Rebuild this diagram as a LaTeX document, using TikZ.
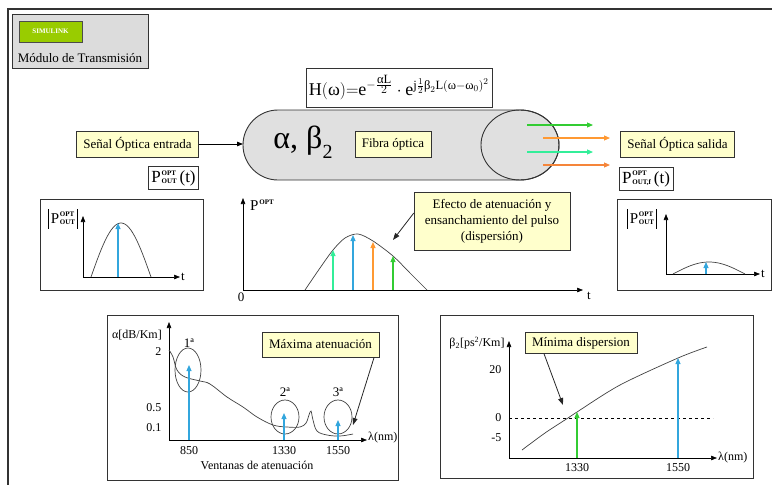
\documentclass[tikz,border=0pt]{standalone}
\usepackage{amsmath}
\usepackage{fontspec}
\setmainfont{Liberation Serif}
\usetikzlibrary{arrows.meta,positioning,calc}
\definecolor{fibBox}{HTML}{FFFFCC}
\definecolor{fibGray}{HTML}{E0E0E0}
\definecolor{fibPanel}{HTML}{DCDCDC}
\definecolor{fibLime}{HTML}{99CC00}
\definecolor{fibBlue}{HTML}{33A6DD}
\definecolor{fibMint}{HTML}{33EE99}
\definecolor{fibGreen}{HTML}{33CC33}
\definecolor{fibOrange}{HTML}{FF9933}
\definecolor{fibRust}{HTML}{F5853A}
\definecolor{fibLine}{HTML}{333333}
\newcommand{\optstack}[1]{\kern0.8pt\raisebox{-1pt}{\fontsize{7}{8.4}\selectfont\bfseries
  \begin{tabular}[b]{@{}l@{}}OPT\\#1\end{tabular}}}

\begin{document}
\begin{tikzpicture}[x=1pt,y=-1pt,font=\fontsize{13}{16}\selectfont,
  note/.style={draw=fibLine,fill=fibBox,minimum height=26pt,inner xsep=7pt,align=center},
  eqbox/.style={draw=fibLine,fill=white,inner sep=3pt},
  panel/.style={draw=fibLine,line width=0.8pt},
  axisline/.style={draw=black,line width=0.6pt,-{Triangle[length=6pt,width=4.5pt]}},
  pulse/.style={draw=black!75,line width=0.7pt},
  ray/.style={line width=1.1pt,-{Triangle[length=6pt,width=5pt]}},
  pointer/.style={draw=black!85,line width=0.8pt,-{Triangle[length=7pt,width=5pt]}},
  ticklbl/.style={font=\fontsize{12}{14}\selectfont},
  plbl/.style={font=\fontsize{15}{17}\selectfont,inner xsep=2pt,inner ysep=1pt}]
  \useasboundingbox (0,0) rectangle (772,485);
  \draw[fibLine,line width=1.2pt] (772,9) -- (8,9) -- (8,485);

  \node[draw=fibLine,fill=fibPanel,line width=0.8pt,minimum width=136pt,minimum height=54pt] (simbox) at (80,41) {};
  \node[draw=black!70,fill=fibLime,text=white,font=\fontsize{7}{8}\selectfont\bfseries,
        minimum width=63pt,minimum height=21pt,inner sep=0pt] (simlogo) at (50.5,31.5) {SIMULINK};
  \node (modulo) at (80,58) {Módulo de Transmisión};

  \node[eqbox,minimum width=184pt,minimum height=39pt,font=\fontsize{18}{21}\selectfont] (hw) at (399,87.5)
    {$\mathrm{H}(\text{ω}){=}\mathrm{e}^{-\frac{\scriptstyle\text{α}\mathrm{L}}{\scriptstyle 2}}\cdot\mathrm{e}^{\mathrm{j}\frac{1}{2}\text{β}_{2}\mathrm{L}(\text{ω}-\text{ω}_{0})^{2}}$};

  \filldraw[fill=fibGray,draw=fibLine,line width=0.9pt] (278,110) arc[start angle=270,end angle=90,radius=35]
    -- (520,180) arc[start angle=90,end angle=-90,x radius=39,y radius=35] -- cycle;
  \draw[fibLine,line width=0.9pt] (520,145) ellipse [x radius=39,y radius=35];
  \coordinate (fibin) at (243,144);
  \node[font=\fontsize{32}{36}\selectfont] (ab) at (303,142) {α, β\raisebox{-0.3em}{\fontsize{20}{20}\selectfont 2}};
  \node[note] (fibra) at (393,144) {Fibra óptica};
  \node[note] (entrada) at (137.5,144) {Señal Óptica entrada};
  \node[note] (salida) at (677.5,144) {Señal Óptica salida};
  \draw[axisline,line width=0.8pt] (entrada.east) -- (fibin);
  \foreach \yy/\xa/\xb/\cc in {125/527/593/fibGreen,138/543/610/fibOrange,152/527/593/fibMint,165/543/610/fibRust}
    \draw[ray,\cc] (\xa,\yy) -- (\xb,\yy);

  \node[eqbox,font=\fontsize{17}{20}\selectfont] (pin) at (173.5,178) {P\optstack{OUT}\,(t)};
  \node[eqbox,font=\fontsize{17}{20}\selectfont] (pout) at (646,178.5) {P\optstack{OUT,f}\,(t)};

  \draw[panel] (40,199) rectangle (203,290);
  \draw[axisline] (83,277) -- (83,216);
  \draw[axisline] (83,277) -- (180,277);
  \draw[pulse] plot[domain=0:180,samples=40] ({91+\x/3},{277-54*sin(\x)});
  \draw[ray,fibBlue] (118,277) -- (118,223);
  \node[plbl] (pinlbl) at (63,219) {P\optstack{OUT}};
  \draw[line width=0.7pt] (pinlbl.north west) -- (pinlbl.south west) (pinlbl.north east) -- (pinlbl.south east);
  \node[anchor=west,inner sep=1pt] (tin) at (180,277) {t};

  \draw[axisline] (243,290) -- (243,198);
  \draw[axisline] (243,290) -- (583,290);
  \draw[pulse] plot[smooth] coordinates {(305,290) (320,268) (333,250) (345,238) (358,234) (373,241) (393,256) (410,273) (427,290)};
  \draw[ray,fibMint] (333,290) -- (333,250);
  \draw[ray,fibBlue] (353,290) -- (353,235);
  \draw[ray,fibOrange] (373,290) -- (373,242);
  \draw[ray,fibGreen] (393,290) -- (393,256);
  \node[anchor=west,inner sep=1pt,font=\fontsize{15}{17}\selectfont] (pmid) at (249,205)
    {P\kern0.8pt\raisebox{6pt}{\fontsize{7}{8}\selectfont\bfseries OPT}};
  \node (cero) at (241,297) {0};
  \node (tmid) at (589,296) {t};
  \node[note,minimum width=156pt,minimum height=58pt] (efecto) at (492,221)
    {Efecto de atenuación y\\ensanchamiento del pulso\\(dispersión)};
  \coordinate (pico) at (393,240);
  \draw[pointer] ([yshift=8pt]efecto.west) -- (pico);

  \draw[panel] (617,199) rectangle (771,290);
  \draw[axisline] (666,274) -- (666,214);
  \draw[axisline] (666,274) -- (760,274);
  \draw[pulse] plot[domain=0:180,samples=40] ({673+\x*72/180},{274-12*sin(\x)});
  \draw[ray,fibBlue] (706,274) -- (706,262);
  \node[plbl] (poutlbl) at (642,219) {P\optstack{OUT}};
  \draw[line width=0.7pt] (poutlbl.north west) -- (poutlbl.south west) (poutlbl.north east) -- (poutlbl.south east);
  \node[anchor=west,inner sep=1pt] (tout) at (760,274) {t};

  \draw[panel] (107,315) rectangle (398,480);
  \draw[axisline] (169,440) -- (169,322);
  \draw[axisline] (169,440) -- (367,440);
  \draw[pulse] plot[smooth,tension=0.6] coordinates {(169,350) (173,357) (177,370) (185,377) (200,381) (210,384)
    (227,397) (243,407) (257,417) (273,425) (287,427) (300,427) (306,423) (309,415) (311,411) (313,420) (317,431)
    (327,435) (340,436) (353,434)};
  \draw[pulse] (188,370) ellipse [x radius=13,y radius=22];
  \draw[pulse] (285,417) ellipse [x radius=14,y radius=17];
  \draw[pulse] (338,417) ellipse [x radius=14,y radius=17];
  \draw[ray,fibBlue] (189,440) -- (189,365);
  \draw[ray,fibBlue] (284,440) -- (284,413);
  \draw[ray,fibBlue] (338,440) -- (338,420);
  \node (v1) at (189,343) {1ª};
  \node (v2) at (285,392) {2ª};
  \node (v3) at (338,392) {3ª};
  \node[ticklbl] (alfa) at (137,335) {α[dB/Km]};
  \node[ticklbl,anchor=east] (a2) at (165,352) {2};
  \node[ticklbl,anchor=east] (a05) at (165,408) {0.5};
  \node[ticklbl,anchor=east] (a01) at (165,428) {0.1};
  \node[ticklbl] (l850) at (189,451) {850};
  \node[ticklbl] (l1330a) at (284,451) {1330};
  \node[ticklbl] (l1550a) at (338,451) {1550};
  \node[ticklbl,anchor=west,inner sep=1pt] (lamA) at (367,438) {λ(nm)};
  \node[ticklbl] (ventanas) at (257,465) {Ventanas de atenuación};
  \node[note,minimum height=25pt] (maxat) at (320.5,344.5) {Máxima atenuación};
  \coordinate (w3) at (353,425);
  \draw[pointer] ([xshift=-5pt]maxat.south east) -- (w3);

  \draw[panel] (440,315) rectangle (753,478);
  \draw[axisline] (509,458) -- (509,341);
  \draw[axisline] (509,458) -- (717,458);
  \draw[dashed,line width=0.6pt] (509,418) -- (713,418);
  \draw[pulse] plot[smooth] coordinates {(522,450) (545,433) (568,418) (577,412) (620,385) (678,358) (707,347)};
  \draw[ray,fibGreen] (577,458) -- (577,412);
  \draw[ray,fibBlue] (678,458) -- (678,358);
  \node[ticklbl] (beta) at (477,343) {β\textsubscript{2}[ps\textsuperscript{2}/Km]};
  \node[ticklbl,anchor=east] (b20) at (505,370) {20};
  \node[ticklbl,anchor=east] (b0) at (505,418) {0};
  \node[ticklbl,anchor=east] (bm5) at (505,438) {-5};
  \node[ticklbl] (l1330b) at (577,468) {1330};
  \node[ticklbl] (l1550b) at (678,468) {1550};
  \node[ticklbl,anchor=west,inner sep=1pt] (lamB) at (717,458) {λ(nm)};
  \node[note,minimum height=21pt] (mindisp) at (581,343) {Mínima dispersion};
  \coordinate (cruce) at (563,405);
  \draw[pointer] ([xshift=-37pt]mindisp.south) -- (cruce);
\end{tikzpicture}
\end{document}
